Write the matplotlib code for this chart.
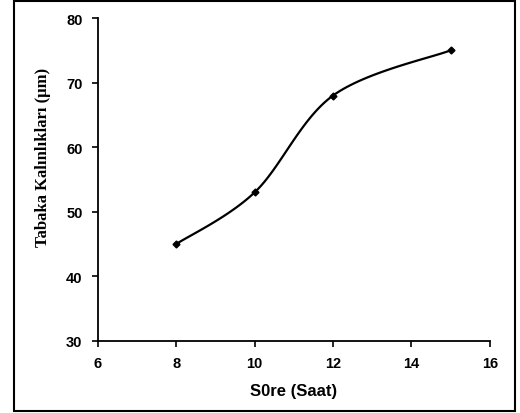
import numpy as np
from matplotlib import pyplot as plt
from matplotlib.patches import Rectangle

hours = [8, 10, 12, 15]
thickness = [45, 53, 68, 75]


def smooth(xs, ys, n=40):
    # Excel-like smoothed line (Catmull-Rom through the points)
    px = [xs[0]] + list(xs) + [xs[-1]]
    py = [ys[0]] + list(ys) + [ys[-1]]
    outx, outy = [], []
    for i in range(1, len(px) - 2):
        p0, p1, p2, p3 = [np.array([px[j], py[j]]) for j in range(i - 1, i + 3)]
        c1 = p1 + (p2 - p0) / 6
        c2 = p2 - (p3 - p1) / 6
        t = np.linspace(0, 1, n)[:, None]
        b = (1 - t) ** 3 * p1 + 3 * (1 - t) ** 2 * t * c1 + 3 * (1 - t) * t ** 2 * c2 + t ** 3 * p2
        outx.extend(b[:, 0])
        outy.extend(b[:, 1])
    return outx, outy


fig = plt.figure(figsize=(5.2, 4.14), dpi=100)
ax = fig.add_axes([0.188, 0.174, 0.754, 0.78])

sx, sy = smooth(hours, thickness)
ax.plot(sx, sy, color='black', linewidth=1.6)
ax.plot(hours, thickness, 'D', color='black', markersize=3.5)

ax.set_xlim(6, 16)
ax.set_ylim(30, 80)
ax.set_xticks([6, 8, 10, 12, 14, 16])
ax.set_yticks([30, 40, 50, 60, 70, 80])
ax.spines['top'].set_visible(False)
ax.spines['right'].set_visible(False)
ax.spines['left'].set_linewidth(1.3)
ax.spines['bottom'].set_linewidth(1.3)
ax.tick_params(direction='out', length=4, width=1.2, pad=7)
for lab in ax.get_xticklabels() + ax.get_yticklabels():
    lab.set_fontfamily('Liberation Sans')
    lab.set_fontweight('bold')
    lab.set_fontsize(10.5)

ax.set_xlabel("S0re (Saat)", fontfamily='Liberation Sans', fontweight='bold', fontsize=12, labelpad=9)
ax.set_ylabel("Tabaka Kalınlıkları (μm)", fontfamily='Liberation Serif', fontweight='bold', fontsize=12)
ax.yaxis.set_label_coords(-0.12, 0.57)

fig.patches.append(Rectangle((0.027, 0.004), 0.963, 0.992, transform=fig.transFigure,
                             fill=False, edgecolor='black', linewidth=1.5))

plt.savefig('out.png')
